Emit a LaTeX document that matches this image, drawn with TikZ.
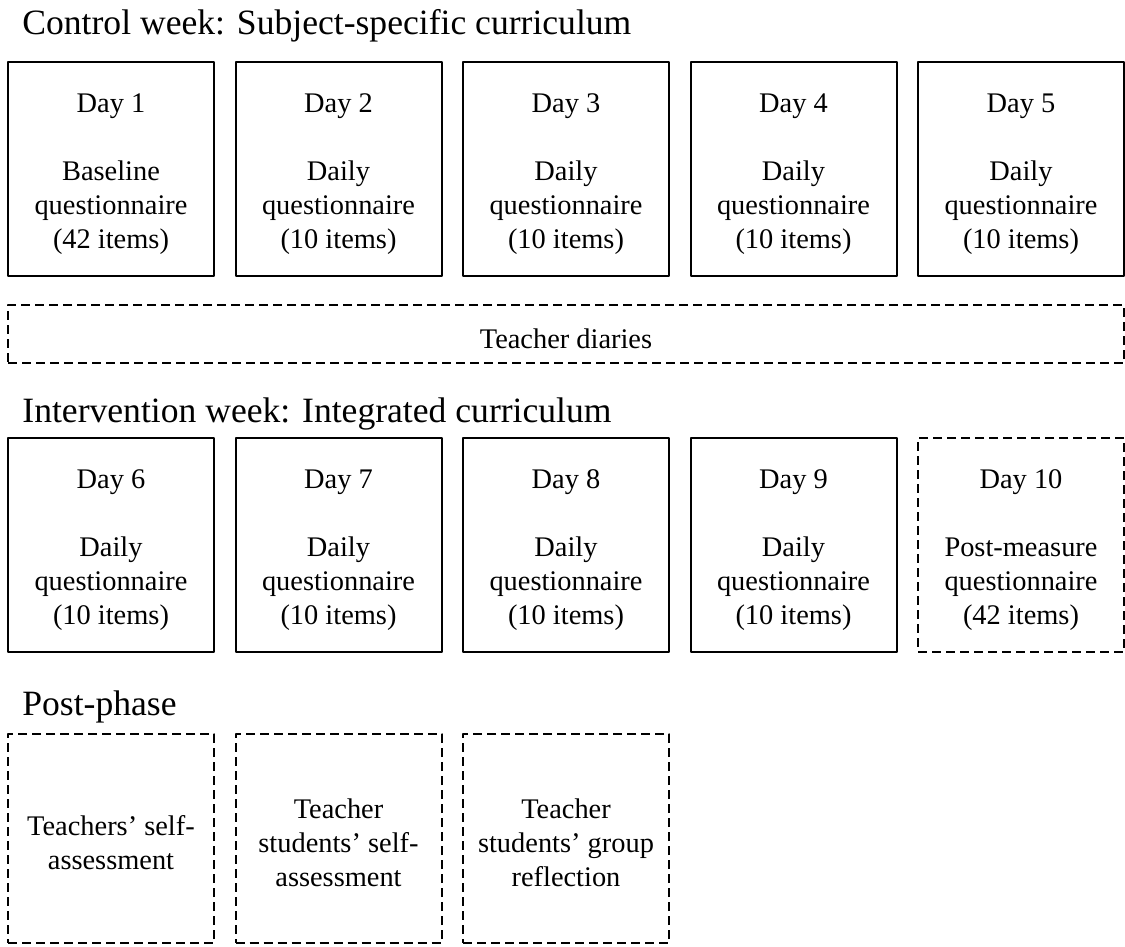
\documentclass[tikz,border=0pt]{standalone}
\usepackage{fontspec}
\setmainfont{Liberation Serif}
\usepackage{tikz}
\newcommand\daystrut{\rule{0pt}{11.8pt}}
\newcommand\poststrut{\rule{0pt}{13.8pt}}

\begin{document}
\begin{tikzpicture}[x=0.5pt,y=-0.5pt,line join=bevel,
  title/.style={anchor=base west,inner sep=0pt,font=\fontsize{17.8}{21}\selectfont},
  daybox/.style={draw,line width=1pt,inner sep=0pt,minimum width=103pt,minimum height=107pt,
    align=center,font=\fontsize{14.2}{17}\selectfont,text depth=0pt},
  openbox/.style={daybox,dash pattern=on 4.5pt off 2.5pt},
  postbox/.style={openbox,minimum height=104.5pt}]
\useasboundingbox (0,0) rectangle (1125,947);
%%
\node (ctrl) at (22,35) [title] {Control week: Subject-specific curriculum};
  \node (d1) at (111,169) [daybox] {\daystrut Day 1\\[17pt]Baseline\\questionnaire\\(42 items)};
  \node (d2) at (338.5,169) [daybox] {\daystrut Day 2\\[17pt]Daily\\questionnaire\\(10 items)};
  \node (d3) at (566,169) [daybox] {\daystrut Day 3\\[17pt]Daily\\questionnaire\\(10 items)};
  \node (d4) at (793.5,169) [daybox] {\daystrut Day 4\\[17pt]Daily\\questionnaire\\(10 items)};
  \node (d5) at (1021,169) [daybox] {\daystrut Day 5\\[17pt]Daily\\questionnaire\\(10 items)};
%
\node (diary) at (566,334) [openbox,minimum width=558pt,minimum height=29pt] {\rule{0pt}{14.8pt}Teacher diaries};
%
\node (intv) at (22,422) [title] {Intervention week: Integrated curriculum};
  \node (d6) at (111,545) [daybox] {\daystrut Day 6\\[17pt]Daily\\questionnaire\\(10 items)};
  \node (d7) at (338.5,545) [daybox] {\daystrut Day 7\\[17pt]Daily\\questionnaire\\(10 items)};
  \node (d8) at (566,545) [daybox] {\daystrut Day 8\\[17pt]Daily\\questionnaire\\(10 items)};
  \node (d9) at (793.5,545) [daybox] {\daystrut Day 9\\[17pt]Daily\\questionnaire\\(10 items)};
  \node (d10) at (1021,545) [openbox] {\daystrut Day 10\\[17pt]Post-measure\\questionnaire\\(42 items)};
%
\node (post) at (22,715) [title] {Post-phase};
  \node (selft) at (111,838.5) [postbox] {\poststrut Teachers’ self-\\assessment};
  \node (selfs) at (338.5,838.5) [postbox] {\poststrut Teacher\\students’ self-\\assessment};
  \node (group) at (566,838.5) [postbox] {\poststrut Teacher\\students’ group\\reflection};
%
\end{tikzpicture}
\end{document}
